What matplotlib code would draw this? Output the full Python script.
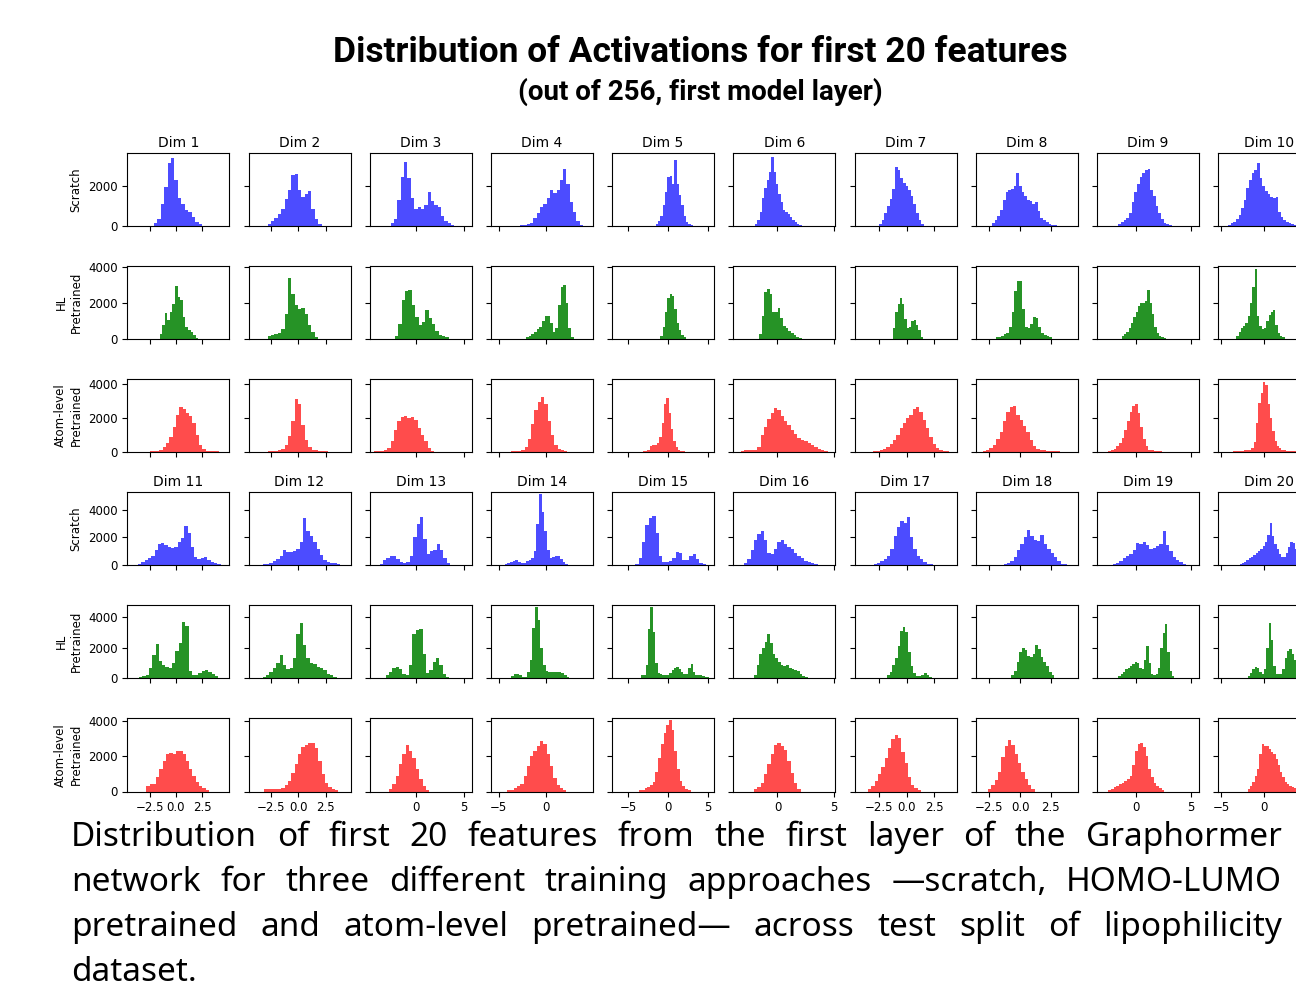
import numpy as np
import matplotlib
matplotlib.use("Agg")
import matplotlib.pyplot as plt

# Histogram data: (lo, hi) bin range and bin counts per feature

dims = ["Dim %d" % i for i in range(1, 21)]
row_labels = ["Scratch", "HL\nPretrained", "Atom-level\nPretrained"]
bar_colors = ["blue", "green", "red"]
bar_alpha = [0.7, 0.85, 0.7]

scratch_range = [(-2.14, 2.52), (-2.81, 2.13), (-2.62, 4.02), (-2.73, 3.92), (-1.56, 3.16),
                 (-1.99, 2.17), (-2.53, 1.57), (-2.26, 2.96), (-1.56, 3.23), (-4.23, 4.08),
                 (-3.62, 4.25), (-3.27, 4.14), (-3.78, 3.57), (-4.37, 2.34), (-4.09, 4.77),
                 (-2.98, 3.57), (-3.01, 2.41), (-1.33, 3.83), (-2.07, 4.82), (-2.88, 4.65)]
scratch_counts = [
    [150, 350, 1100, 1960, 3120, 3370, 2290, 1390, 1100, 810, 730, 450, 230, 100],
    [100, 250, 400, 600, 850, 1350, 1800, 2550, 2600, 1800, 1450, 1600, 1750, 850, 350, 100],
    [150, 350, 1300, 2450, 3200, 2400, 1400, 850, 950, 850, 1050, 1700, 1250, 1050, 950, 500, 250, 150, 70],
    [60, 70, 90, 150, 400, 650, 950, 1100, 1400, 1800, 1650, 1800, 2300, 2850, 2100, 1200, 700, 250, 70],
    [100, 250, 500, 1050, 1700, 2450, 2500, 2100, 3280, 2100, 1550, 1050, 500, 230, 100, 50],
    [100, 300, 700, 1400, 1900, 2300, 2700, 3450, 2700, 2100, 1600, 1200, 800, 700, 600, 450, 300, 200, 100, 50],
    [100, 300, 650, 1000, 1350, 1850, 2920, 2800, 2400, 2150, 2000, 1800, 1500, 1100, 650, 300, 100],
    [150, 300, 500, 800, 1300, 1700, 1800, 1850, 2000, 2620, 2000, 1700, 1500, 1300, 1250, 1100, 1200, 750,
     400, 300, 200, 120, 80, 40],
    [100, 200, 300, 400, 650, 1200, 1700, 2100, 2450, 2620, 2800, 2840, 1800, 1500, 1000, 650, 350, 170, 100, 60],
    [80, 150, 220, 350, 550, 900, 1300, 1900, 2300, 2650, 2800, 3150, 2400, 2000, 1750, 1600, 1450, 1400,
     1450, 700, 450, 300, 200, 150, 100, 60, 30],
    [120, 220, 420, 500, 700, 1100, 1550, 1580, 1450, 1350, 1250, 1350, 1650, 1950, 2850, 2300, 1350, 600,
     450, 500, 600, 380, 250, 150, 80],
    [80, 100, 150, 280, 450, 700, 1100, 950, 950, 1000, 1200, 1700, 3400, 2450, 2100, 1650, 1200, 750, 400,
     250, 180, 150, 100, 60],
    [120, 350, 550, 650, 700, 450, 250, 170, 250, 700, 2000, 3000, 3500, 1900, 800, 1000, 1100, 1550, 1100, 500, 150],
    [100, 150, 250, 330, 360, 250, 170, 200, 280, 400, 550, 1000, 3000, 5100, 3800, 2500, 1100, 550, 600,
     700, 650, 450, 250, 100],
    [120, 500, 1700, 2900, 3400, 3550, 2300, 700, 250, 220, 280, 550, 950, 900, 350, 350, 650, 800, 450, 200, 100],
    [170, 450, 1100, 1800, 2250, 2500, 1800, 900, 850, 1150, 1700, 1850, 1500, 1330, 1150, 900, 700, 500,
     300, 250, 150, 100],
    [80, 150, 300, 450, 650, 1200, 2100, 2750, 3150, 3050, 3500, 2000, 1150, 650, 450, 220, 120, 70],
    [80, 150, 300, 600, 1100, 1550, 2000, 2530, 2100, 1850, 1750, 2200, 1500, 1150, 900, 600, 300, 130, 70],
    [80, 200, 300, 500, 650, 800, 1100, 1600, 1500, 1650, 1450, 1200, 1250, 1400, 1550, 2500, 1450, 1000,
     600, 400, 220, 100, 50],
    [100, 150, 250, 350, 500, 600, 750, 900, 1000, 1200, 1400, 1650, 2200, 3060, 2100, 1500, 1150, 800, 600,
     600, 900, 1350, 1650, 1600, 1200, 800, 400, 200],
]

hl_range = [(-1.57, 2.14), (-2.81, 1.82), (-2.17, 3.43), (-2.10, 2.94), (-0.97, 2.28),
            (-1.64, 2.17), (-1.27, 1.48), (-1.98, 2.58), (-1.26, 2.72), (-3.27, 2.38),
            (-3.52, 4.03), (-3.27, 3.52), (-3.15, 3.50), (-3.67, 2.48), (-3.38, 5.19),
            (-2.08, 2.68), (-1.81, 2.53), (-0.71, 2.77), (-1.56, 3.47), (-1.92, 4.54)]
hl_counts = [
    [315, 780, 1460, 1050, 1500, 1980, 2940, 2350, 2160, 1240, 685, 540, 400, 220, 90],
    [200, 250, 300, 320, 550, 1400, 3400, 2500, 1900, 1650, 1750, 1400, 800, 400, 130],
    [200, 850, 2200, 2650, 2750, 1900, 1250, 800, 950, 1600, 1200, 850, 450, 250, 170, 100],
    [150, 180, 300, 400, 550, 700, 1000, 1300, 1300, 900, 400, 600, 1900, 2900, 3000, 2000, 600, 150],
    [200, 700, 1500, 2300, 2500, 2400, 1700, 900, 500, 250, 120],
    [300, 1300, 2600, 2760, 2500, 1500, 1500, 1750, 1200, 750, 650, 450, 350, 250, 150, 80],
    [650, 1500, 1950, 2290, 1950, 1150, 600, 700, 1000, 1050, 800, 500, 150],
    [100, 130, 200, 280, 350, 700, 1500, 2700, 3250, 3250, 1700, 700, 650, 850, 1250, 1200, 700, 350, 250, 200, 130],
    [200, 300, 400, 600, 900, 1250, 1500, 1850, 2000, 2020, 2100, 2720, 2000, 1400, 700, 350, 200, 120, 60],
    [200, 400, 600, 750, 900, 1300, 2000, 2900, 3870, 1300, 750, 550, 600, 1000, 1350, 1500, 1600, 800, 350, 180, 100],
    [100, 150, 250, 700, 1500, 2250, 1150, 850, 750, 700, 1000, 1800, 2300, 3700, 3400, 500, 220, 200, 350,
     500, 550, 450, 300, 150],
    [120, 200, 400, 650, 1000, 1500, 900, 600, 700, 1300, 2900, 3600, 2200, 1300, 1000, 950, 750, 650, 550,
     300, 200, 100],
    [200, 400, 650, 750, 600, 300, 200, 900, 2900, 3150, 3250, 1600, 350, 550, 1100, 1300, 850, 280, 100],
    [150, 300, 300, 200, 120, 120, 400, 1200, 3300, 4640, 3800, 2000, 900, 500, 450, 450, 450, 450, 440,
     350, 250, 110],
    [200, 250, 900, 3200, 4640, 3000, 1000, 350, 280, 220, 220, 220, 350, 550, 700, 720, 600, 400, 300,
     300, 700, 950, 450, 250, 220, 200, 150, 110, 80],
    [250, 900, 1600, 2000, 2400, 2900, 2300, 1600, 1350, 1050, 850, 800, 850, 700, 600, 550, 500, 300, 150, 80],
    [250, 450, 850, 1300, 2100, 3100, 3380, 3000, 1700, 800, 330, 170, 150, 250, 330, 250, 120, 60],
    [200, 500, 1100, 1700, 1950, 1850, 1450, 1400, 1600, 2150, 1900, 1400, 1100, 800, 450, 200],
    [150, 300, 450, 600, 700, 800, 950, 1100, 1000, 650, 600, 1200, 2110, 1000, 300, 220, 300, 700, 2000,
     2990, 3550, 1700, 500, 150],
    [150, 350, 600, 750, 650, 400, 300, 600, 2000, 3640, 2500, 800, 300, 280, 280, 600, 1300, 1800, 1900,
     1600, 1200, 700, 300, 120],
]

atom_range = [(-2.52, 4.09), (-2.81, 2.75), (-4.37, 1.92), (-3.67, 2.27), (-3.16, 2.15),
              (-3.27, 4.46), (-3.07, 4.16), (-3.02, 3.23), (-2.46, 2.34), (-3.65, 3.88),
              (-2.83, 3.14), (-3.12, 3.67), (-2.80, 1.40), (-4.13, 2.17), (-3.59, 2.83),
              (-2.08, 2.08), (-3.52, 1.30), (-2.61, 1.20), (-2.46, 2.57), (-1.92, 4.27)]
atom_counts = [
    [90, 90, 100, 150, 300, 540, 900, 1500, 2200, 2650, 2550, 2300, 2100, 1700, 1000, 450, 200, 100, 90, 80, 70],
    [80, 90, 100, 120, 200, 450, 950, 1800, 3100, 2800, 1600, 700, 300, 150, 120, 100, 80, 50],
    [90, 100, 100, 110, 250, 650, 1300, 1800, 2050, 2100, 2000, 2080, 1900, 1400, 1000, 650, 250, 100],
    [80, 90, 100, 110, 300, 800, 1650, 2450, 2950, 3250, 2800, 1800, 1000, 450, 200, 120, 80],
    [80, 100, 150, 350, 400, 450, 550, 900, 1700, 2800, 3150, 2300, 1350, 650, 300, 150, 100, 60],
    [100, 110, 110, 120, 150, 300, 1000, 1500, 1950, 2300, 2600, 2450, 2100, 1800, 1600, 1300, 1050, 850,
     720, 650, 520, 450, 330, 220, 150, 80],
    [80, 100, 130, 220, 330, 480, 700, 1000, 1400, 1700, 2000, 2200, 2550, 2620, 2350, 1900, 1400, 900,
     500, 280, 150, 90, 60, 40],
    [80, 120, 230, 450, 800, 1200, 1850, 2350, 2650, 2700, 2200, 1900, 1550, 1200, 700, 380, 200, 130, 110,
     100, 90, 70, 50],
    [80, 110, 200, 350, 550, 850, 1300, 1800, 2350, 2700, 2820, 2300, 1500, 800, 350, 150, 110, 90, 70, 50],
    [70, 80, 90, 100, 100, 110, 120, 150, 250, 600, 1700, 2850, 3450, 4110, 3900, 2800, 2000, 1250, 650,
     350, 250, 150, 120, 100, 90, 80, 70, 50],
    [300, 420, 450, 800, 1250, 1750, 2150, 2180, 2100, 2300, 2300, 2150, 1750, 1250, 900, 550, 320, 200, 90],
    [120, 140, 150, 150, 160, 200, 350, 600, 1050, 1550, 2100, 2500, 2650, 2750, 2750, 2450, 1700, 1000,
     500, 250, 150, 80],
    [150, 450, 900, 1550, 2150, 2650, 2300, 1900, 1250, 700, 330, 100],
    [80, 100, 200, 300, 450, 900, 1450, 2000, 2300, 2550, 2850, 2700, 2100, 1450, 750, 350, 200, 80],
    [80, 100, 200, 280, 350, 550, 1100, 1900, 2700, 3300, 3750, 4050, 3500, 2300, 1300, 600, 300, 150, 80],
    [150, 250, 500, 1000, 1550, 2150, 2650, 2750, 2600, 2350, 1750, 1050, 500, 150],
    [150, 300, 600, 1000, 1400, 1900, 2450, 2950, 3190, 3000, 2250, 1600, 800, 350, 200, 100],
    [150, 340, 630, 1100, 1950, 2600, 2900, 2650, 2150, 1600, 1100, 700, 350, 150],
    [90, 150, 250, 320, 420, 500, 600, 700, 900, 1500, 2300, 2700, 2750, 2500, 2000, 1300, 800, 500, 300, 200, 100],
    [150, 300, 550, 850, 1300, 2100, 2680, 2600, 2570, 2430, 2250, 2100, 1850, 1500, 1100, 800, 550, 400,
     300, 250, 200, 120, 60],
]

# axis limits / ticks per column and per row
col_xlim = [(-4.64, 5.08), (-4.57, 4.78), (-4.8, 5.81), (-5.84, 4.97), (-7.0, 5.78),
            (-3.93, 5.15), (-4.76, 4.52), (-3.59, 4.67), (-3.5, 5.69), (-5.38, 6.5)]
col_xticks = [[-2.5, 0, 2.5], [-2.5, 0, 2.5], [0, 5], [-5, 0], [-5, 0, 5],
              [0, 5], [-2.5, 0, 2.5], [-2.5, 0, 2.5], [0, 5], [-5, 0]]
row_ylim = [3650, 4075, 4280, 5270, 4785, 4160]
row_yticks = [[0, 2000], [0, 2000, 4000], [0, 2000, 4000],
              [0, 2000, 4000], [0, 2000, 4000], [0, 2000, 4000]]

model_range = [scratch_range, hl_range, atom_range]
model_counts = [scratch_counts, hl_counts, atom_counts]

# Figure
W, H = 1296, 990
fig = plt.figure(figsize=(W / 100, H / 100), dpi=100)

for r in range(6):
    m = r % 3
    block = r // 3
    for c in range(10):
        d = block * 10 + c
        left = (127.3 + c * 121.2) / W
        bottom = 1 - (152.7 + r * 113.06 + 73.5) / H
        ax = fig.add_axes([left, bottom, 102 / W, 73.5 / H])

        lo, hi = model_range[m][d]
        counts = model_counts[m][d]
        edges = np.linspace(lo, hi, len(counts) + 1)
        ax.hist(edges[:-1], bins=edges, weights=counts,
                color=bar_colors[m], alpha=bar_alpha[m])

        ax.set_xlim(col_xlim[c])
        ax.set_ylim(0, row_ylim[r])
        ax.set_xticks(col_xticks[c])
        ax.set_yticks(row_yticks[r])
        ax.tick_params(labelsize=8.5)
        if r != 5:
            ax.tick_params(labelbottom=False)
        if c != 0:
            ax.tick_params(labelleft=False)
        else:
            ax.set_ylabel(row_labels[m], fontsize=8.5)
        if m == 0:
            ax.set_title(dims[d], fontsize=10, pad=4)

# Titles
title_font = ["Roboto", "DejaVu Sans"]
fig.text(700.5 / W, 1 - 52 / H, "Distribution of Activations for first 20 features",
         ha="center", va="center", fontsize=25.5, fontweight="bold", family=title_font)
fig.text(700 / W, 1 - 92 / H, "(out of 256, first model layer)",
         ha="center", va="center", fontsize=20, fontweight="bold", family=title_font)

# Caption (justified)
caption_lines = [
    "Distribution of first 20 features from the first layer of the Graphormer",
    "network for three different training approaches \u2014scratch, HOMO-LUMO",
    "pretrained and atom-level pretrained\u2014 across test split of lipophilicity",
    "dataset.",
]
caption_base = [846, 891, 936, 981]
x0, x1 = 71, 1282
renderer = fig.canvas.get_renderer()
for i, line in enumerate(caption_lines):
    words = line.split()
    y = 1 - caption_base[i] / H
    texts = [fig.text(x0 / W, y, w, fontsize=24, family=["Noto Sans", "DejaVu Sans"],
                      va="baseline", ha="left") for w in words]
    widths = [t.get_window_extent(renderer).width for t in texts]
    if i < len(caption_lines) - 1 and len(words) > 1:
        gap = ((x1 - x0) - sum(widths)) / (len(words) - 1)
    else:
        gap = 10
    x = x0
    for t, w in zip(texts, widths):
        t.set_x(x / W)
        x += w + gap

fig.savefig("out.png", dpi=100)
